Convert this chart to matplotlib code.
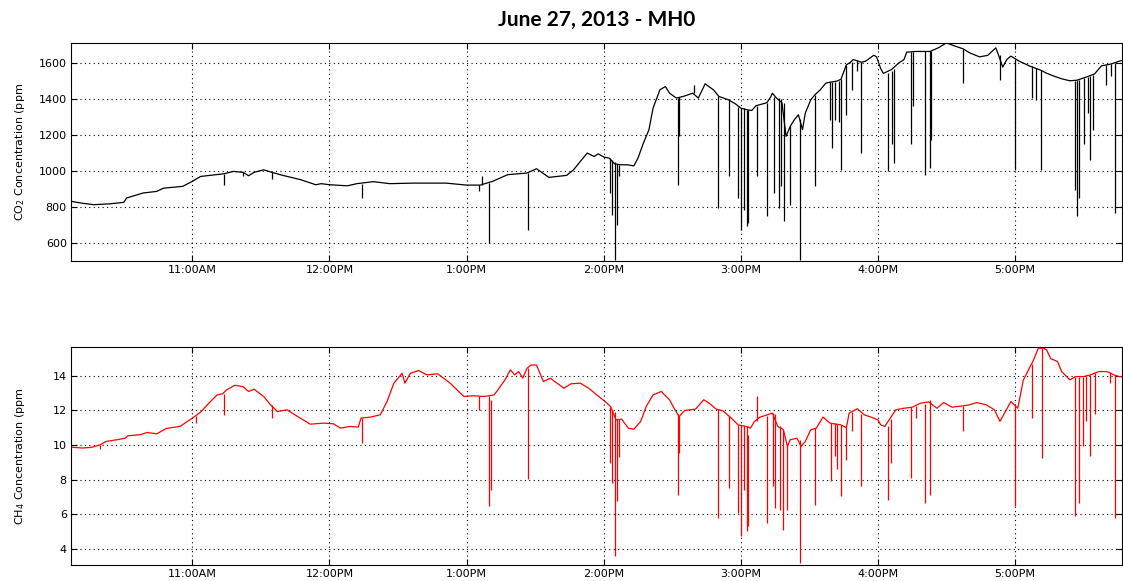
import numpy as np
import matplotlib
matplotlib.use("Agg")
import matplotlib.pyplot as plt

# time in decimal hours of the day
co2_t = [10.115, 10.19, 10.28, 10.40, 10.50, 10.52, 10.64, 10.74, 10.79, 10.93,
         11.00, 11.06, 11.15, 11.23, 11.30, 11.37, 11.41, 11.45, 11.52, 11.58,
         11.66, 11.79, 11.90, 11.94, 12.00, 12.13, 12.20, 12.32, 12.44, 12.61,
         12.85, 13.00, 13.10, 13.19, 13.30, 13.44, 13.51, 13.60, 13.73, 13.78,
         13.83, 13.88, 13.93, 13.96, 14.00, 14.04, 14.08, 14.12, 14.17, 14.22,
         14.25, 14.29, 14.33, 14.36, 14.41, 14.45, 14.48, 14.53, 14.58, 14.65,
         14.69, 14.74, 14.80, 14.84, 14.91, 14.96, 15.00, 15.05, 15.08, 15.11,
         15.19, 15.22, 15.23, 15.26, 15.30, 15.33, 15.36, 15.39, 15.42, 15.45,
         15.47, 15.51, 15.54, 15.58, 15.62, 15.65, 15.70, 15.73, 15.77, 15.80,
         15.82, 15.88, 15.91, 15.97, 15.99, 16.02, 16.04, 16.10, 16.15, 16.19,
         16.21, 16.28, 16.38, 16.44, 16.50, 16.55, 16.62, 16.67, 16.74, 16.80,
         16.86, 16.88, 16.91, 16.94, 16.97, 17.03, 17.11, 17.19, 17.23, 17.29,
         17.34, 17.40, 17.45, 17.51, 17.58, 17.63, 17.70, 17.76, 17.78]
co2_v = [832, 822, 813, 818, 826, 850, 878, 887, 905, 915,
         943, 970, 978, 985, 998, 993, 974, 993, 1007, 993,
         976, 952, 924, 930, 924, 918, 930, 941, 930, 933,
         933, 922, 922, 943, 980, 989, 1013, 965, 976, 1007,
         1054, 1100, 1081, 1096, 1078, 1072, 1040, 1035, 1035, 1029,
         1072, 1156, 1230, 1350, 1452, 1470, 1433, 1406, 1415, 1433,
         1406, 1485, 1452, 1415, 1396, 1374, 1350, 1340, 1337, 1363,
         1380, 1415, 1433, 1406, 1380, 1193, 1248, 1285, 1313, 1230,
         1322, 1396, 1424, 1452, 1489, 1494, 1500, 1510, 1591, 1605,
         1620, 1605, 1611, 1644, 1635, 1570, 1543, 1565, 1600, 1620,
         1661, 1665, 1665, 1685, 1713, 1698, 1680, 1657, 1635, 1643,
         1685, 1644, 1578, 1620, 1639, 1611, 1583, 1560, 1544, 1526,
         1513, 1502, 1505, 1520, 1540, 1585, 1595, 1611, 1615]

# sharp drops: time, level before the drop, lowest reading
co2_dip_t = [11.23, 11.37, 11.58, 12.24, 13.09, 13.11, 13.163, 13.445, 14.046, 14.063,
             14.083, 14.095, 14.114, 14.54, 14.552, 14.66, 14.837, 14.917, 14.978, 15.0,
             15.02, 15.044, 15.056, 15.12, 15.19, 15.24, 15.28, 15.295, 15.315, 15.36,
             15.43, 15.54, 15.65, 15.666, 15.69, 15.714, 15.73, 15.77, 15.81, 15.85,
             15.88, 16.07, 16.10, 16.12, 16.24, 16.254, 16.346, 16.38, 16.39, 16.617,
             16.889, 17.0, 17.126, 17.155, 17.19, 17.44, 17.453, 17.465, 17.506, 17.53,
             17.547, 17.567, 17.66, 17.70, 17.73]
co2_dip_top = [985, 993, 993, 930, 922, 974, 935, 989, 1072, 1060,
               1050, 1040, 1035, 1406, 1410, 1480, 1415, 1396, 1356, 1350,
               1350, 1340, 1340, 1363, 1380, 1410, 1406, 1400, 1380, 1248,
               1290, 1424, 1494, 1494, 1494, 1500, 1510, 1591, 1605, 1615,
               1605, 1543, 1555, 1565, 1661, 1663, 1665, 1665, 1670, 1680,
               1644, 1625, 1583, 1575, 1560, 1502, 1505, 1505, 1520, 1525,
               1530, 1535, 1590, 1595, 1600]
co2_dip_low = [920, 975, 955, 850, 887, 922, 600, 674, 878, 757,
               507, 700, 970, 924, 1193, 1433, 794, 970, 850, 674,
               785, 693, 711, 970, 748, 878, 794, 915, 720, 813,
               507, 915, 1285, 1128, 1285, 1274, 1007, 1313, 1452, 1554,
               1100, 998, 1152, 1044, 1152, 1359, 980, 1017, 1170, 1489,
               1507, 1007, 1406, 1396, 1007, 896, 748, 850, 1152, 1322,
               1063, 1230, 1480, 1526, 767]

ch4_t = [10.115, 10.20, 10.27, 10.33, 10.37, 10.45, 10.51, 10.53, 10.62, 10.67,
         10.74, 10.81, 10.91, 11.00, 11.06, 11.12, 11.18, 11.22, 11.25, 11.31,
         11.37, 11.41, 11.45, 11.52, 11.57, 11.62, 11.69, 11.76, 11.86, 11.96,
         12.03, 12.08, 12.15, 12.21, 12.23, 12.30, 12.37, 12.42, 12.47, 12.53,
         12.55, 12.59, 12.65, 12.71, 12.79, 12.88, 12.98, 13.05, 13.13, 13.20,
         13.22, 13.28, 13.32, 13.35, 13.38, 13.41, 13.44, 13.47, 13.51, 13.56,
         13.61, 13.66, 13.71, 13.76, 13.83, 13.89, 13.95, 14.01, 14.05, 14.09,
         14.13, 14.18, 14.22, 14.27, 14.31, 14.36, 14.42, 14.48, 14.52, 14.55,
         14.59, 14.67, 14.73, 14.77, 14.82, 14.87, 14.93, 14.98, 15.04, 15.07,
         15.10, 15.14, 15.17, 15.23, 15.27, 15.31, 15.34, 15.36, 15.41, 15.44,
         15.47, 15.51, 15.55, 15.60, 15.65, 15.73, 15.77, 15.79, 15.85, 15.90,
         15.95, 16.00, 16.02, 16.05, 16.13, 16.19, 16.25, 16.31, 16.37, 16.43,
         16.48, 16.54, 16.62, 16.67, 16.72, 16.79, 16.85, 16.89, 16.93, 16.97,
         17.02, 17.06, 17.11, 17.13, 17.17, 17.21, 17.23, 17.26, 17.31, 17.34,
         17.40, 17.44, 17.50, 17.55, 17.61, 17.67, 17.72, 17.76, 17.78]
ch4_v = [9.88, 9.83, 9.88, 10.02, 10.21, 10.31, 10.40, 10.54, 10.60, 10.73,
         10.65, 10.96, 11.08, 11.56, 11.90, 12.42, 12.90, 12.96, 13.19, 13.46,
         13.38, 13.10, 13.23, 12.81, 12.33, 11.94, 12.04, 11.69, 11.21, 11.27,
         11.23, 10.98, 11.08, 11.04, 11.56, 11.62, 11.75, 12.52, 13.58, 14.15,
         13.58, 14.15, 14.31, 14.06, 14.12, 13.58, 12.81, 12.85, 12.81, 12.90,
         13.10, 13.77, 14.35, 14.06, 14.25, 13.87, 14.44, 14.63, 14.63, 13.67,
         13.87, 13.58, 13.29, 13.54, 13.58, 13.29, 12.90, 12.52, 12.23, 11.46,
         11.50, 10.98, 10.92, 11.37, 12.23, 12.90, 13.10, 12.62, 12.04, 11.65,
         12.00, 12.08, 12.62, 12.42, 12.08, 11.98, 11.56, 11.17, 11.08, 10.98,
         11.37, 11.62, 11.69, 11.85, 11.08, 10.90, 9.92, 10.31, 10.40, 9.92,
         10.21, 10.88, 10.98, 11.62, 11.27, 11.17, 11.00, 11.85, 12.10, 11.75,
         11.62, 11.46, 11.17, 11.08, 12.04, 12.13, 12.19, 12.42, 12.50, 12.13,
         12.46, 12.19, 12.27, 12.33, 12.46, 12.33, 12.04, 11.37, 11.94, 12.52,
         12.13, 13.75, 14.54, 14.83, 15.60, 15.60, 15.50, 15.00, 14.83, 14.25,
         13.77, 13.96, 13.96, 14.06, 14.25, 14.25, 14.06, 13.96, 13.96]

ch4_dip_t = [10.33, 11.03, 11.23, 11.58, 12.24, 13.09, 13.163, 13.18, 13.445, 14.046,
             14.063, 14.083, 14.095, 14.114, 14.54, 14.552, 14.837, 14.917, 14.978, 15.0,
             15.02, 15.044, 15.056, 15.12, 15.19, 15.237, 15.247, 15.286, 15.31, 15.34,
             15.43, 15.54, 15.66, 15.69, 15.70, 15.73, 15.77, 15.81, 15.88, 16.07,
             16.094, 16.24, 16.28, 16.346, 16.38, 16.617, 17.0, 17.12, 17.20, 17.44,
             17.465, 17.494, 17.518, 17.547, 17.58, 17.69, 17.73]
ch4_dip_top = [10.02, 11.70, 12.96, 12.33, 11.56, 12.85, 12.81, 12.62, 14.44, 12.23,
               12.00, 11.90, 11.50, 11.50, 11.80, 11.70, 12.08, 11.70, 11.17, 11.17,
               11.08, 11.08, 10.60, 11.40, 11.69, 11.85, 11.80, 11.08, 10.90, 10.00,
               10.30, 10.98, 11.27, 11.25, 11.22, 11.17, 11.10, 11.90, 11.80, 11.08,
               11.50, 12.19, 12.25, 12.40, 12.60, 12.27, 12.30, 14.70, 15.60, 13.96,
               13.96, 13.96, 14.00, 14.06, 14.15, 14.20, 14.06]
ch4_dip_low = [9.75, 11.30, 11.75, 11.56, 10.12, 12.04, 6.46, 7.42, 8.06, 8.96,
               7.81, 3.58, 6.75, 9.30, 7.13, 9.54, 5.79, 7.52, 6.08, 4.73,
               7.42, 5.02, 5.30, 12.81, 5.50, 7.62, 6.37, 6.27, 5.10, 6.27,
               3.19, 6.56, 7.90, 9.35, 8.60, 7.04, 9.15, 10.79, 7.62, 6.85,
               8.96, 8.10, 11.56, 6.65, 7.13, 10.79, 6.46, 11.56, 9.25, 5.88,
               6.65, 9.92, 11.40, 9.35, 11.80, 13.60, 5.79]

hour_ticks = [11, 12, 13, 14, 15, 16, 17]
hour_labels = ["11:00AM", "12:00PM", "1:00PM", "2:00PM", "3:00PM", "4:00PM", "5:00PM"]

fig = plt.figure(figsize=(11.23, 5.81), dpi=100)
ax1 = fig.add_axes([71 / 1123, 1 - 261 / 581, 1051 / 1123, 218 / 581])
ax2 = fig.add_axes([71 / 1123, 1 - 565 / 581, 1051 / 1123, 218 / 581])

ax1.plot(co2_t, co2_v, color="black", linewidth=0.9)
ax1.vlines(co2_dip_t, co2_dip_low, co2_dip_top, color="black", linewidth=0.9)
ax2.plot(ch4_t, ch4_v, color="red", linewidth=0.9)
ax2.vlines(ch4_dip_t, ch4_dip_low, ch4_dip_top, color="red", linewidth=0.9)

ax1.set_ylim(500, 1712)
ax1.set_yticks([600, 800, 1000, 1200, 1400, 1600])
ax2.set_ylim(3.07, 15.67)
ax2.set_yticks([4, 6, 8, 10, 12, 14])

for ax in (ax1, ax2):
    ax.set_xlim(10.115, 17.78)
    ax.set_xticks(hour_ticks)
    ax.set_xticklabels(hour_labels)
    ax.grid(True, color="black", linestyle=(0, (1, 3)), linewidth=0.8)
    ax.tick_params(direction="in", top=True, right=True, length=4, width=0.8,
                   labelsize=8, pad=3)
    for s in ax.spines.values():
        s.set_linewidth(0.8)

ax1.set_ylabel("CO$_2$ Concentration (ppm", fontsize=8)
ax2.set_ylabel("CH$_4$ Concentration (ppm", fontsize=8)
ax1.yaxis.set_label_coords(-0.042, 0.5)
ax2.yaxis.set_label_coords(-0.042, 0.5)

fig.text(0.531, 1 - 20 / 581, "June 27, 2013 - MH0", ha="center", va="center",
         fontsize=15, fontweight="bold", family="Lato")

fig.savefig("out.png", dpi=100)
